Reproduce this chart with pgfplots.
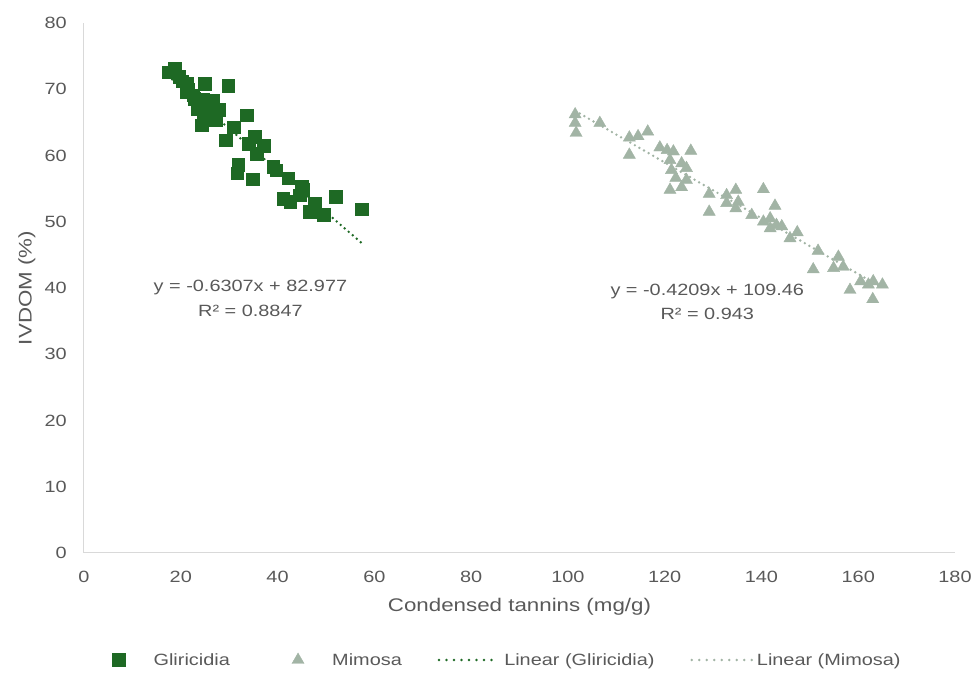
\documentclass[border=0pt]{standalone}
\usepackage{fontspec}
\setmainfont{Liberation Sans}[FakeStretch=1.22]
\usepackage{pgfplots}
\pgfplotsset{compat=1.18}
\definecolor{gl}{RGB}{30,105,36}
\definecolor{mi}{RGB}{162,180,165}
\definecolor{txt}{RGB}{89,89,89}
\definecolor{axl}{RGB}{217,217,217}
\begin{document}
\begin{tikzpicture}
\begin{axis}[name=ax, scale only axis, width=871pt, height=530pt,
  xmin=0, xmax=180, ymin=0, ymax=80,
  xtick={0,20,...,180}, ytick={0,10,...,80},
  axis x line*=bottom, axis y line*=left,
  axis line style={draw=axl, line width=1pt, -},
  major tick length=0pt,
  /pgf/number format/assume math mode=true,
  tick label style={font=\fontsize{16.3}{19}\selectfont, text=txt},
  xticklabel style={inner sep=0pt, anchor=north, yshift=-18pt},
  yticklabel style={inner sep=0pt, anchor=east, xshift=-17pt},
  xlabel={Condensed tannins (mg/g)}, ylabel={IVDOM (\%)},
  label style={font=\fontsize{18.3}{22}\selectfont, text=txt},
  xlabel style={at={(axis description cs:0.5,0)}, anchor=center, yshift=-54pt},
  ylabel style={at={([xshift=-57pt]axis description cs:0,0.5)}, anchor=center},
  clip=false,
  legend columns=4,
  legend cell align=left,
  legend style={draw=none, fill=none, inner sep=0pt,
    at={(axis description cs:0,0)}, anchor=west, xshift=16pt, yshift=-107pt,
    font=\fontsize{16.3}{19}\selectfont, text=txt, column sep=0pt,
    nodes={inner xsep=0pt}},
]
% Gliricidia
\addplot[only marks, mark=square*, mark size=6.3pt, color=gl, forget plot] coordinates {
(17.4,72.6) (18.8,73.1) (19.7,71.9) (21.2,70.9) (25.0,70.8) (29.8,70.5)
(21.2,69.6) (22.6,69.1) (26.7,68.3) (27.8,66.9) (24.0,67.6) (24.7,66.1)
(26.0,65.6) (24.3,64.6) (30.9,64.3) (33.6,66.1) (29.3,62.3) (35.3,62.8)
(34.0,61.8) (37.1,61.5) (35.7,60.3) (31.9,58.6) (31.7,57.3) (34.9,56.4)
(39.1,58.3) (39.7,57.8) (42.2,56.6) (45.0,55.3) (45.3,54.8) (41.2,53.5)
(42.6,53.0) (44.6,54.0) (47.7,52.8) (46.7,51.5) (49.5,51.1) (52.0,53.8)
(57.4,51.9) (21.5,70.0) (22.8,68.6) (23.5,67.0) (24.5,68.5) (25.5,67.2)
(26.5,66.8) (27.2,65.3) (20.3,71.2)
};
% Mimosa
\addplot[only marks, mark=triangle*, mark size=7pt, color=mi, forget plot] coordinates {
(101.5,66.2) (101.5,64.9) (101.7,63.4) (106.6,64.9) (112.7,62.7) (114.5,62.9)
(116.5,63.6) (112.7,60.1) (119.0,61.2) (120.5,60.8) (121.8,60.6) (125.4,60.7)
(121.1,59.3) (123.5,58.8) (124.5,58.1) (121.4,57.8) (122.3,56.6) (124.5,56.3)
(121.1,54.8) (123.5,55.2) (129.2,54.2) (129.2,51.5) (132.8,54.0) (134.7,54.8)
(132.8,52.8) (135.2,53.0) (134.7,52.0) (140.4,54.9) (138.0,51.0) (142.8,52.4)
(140.4,50.0) (141.8,50.5) (141.8,49.0) (143.1,49.5) (144.2,49.3) (145.9,47.5)
(147.4,48.4) (151.7,45.6) (150.7,42.8) (155.9,44.7) (154.9,43.0) (156.9,43.2)
(158.3,39.7) (160.5,41.0) (162.1,40.5) (163.1,41.0) (165.0,40.5) (163.0,38.3)
};
% trendlines
\addplot[color=gl, line width=2.7pt, dash pattern=on 0pt off 5.3pt, line cap=round, forget plot]
  coordinates {(17.4,72.003) (57.4,46.775)};
\addplot[color=mi, line width=2.7pt, dash pattern=on 0pt off 5.3pt, line cap=round, forget plot]
  coordinates {(101.5,66.739) (165.0,40.012)};
% legend
\addlegendimage{legend image code/.code={\path (0pt,0pt) (53pt,0pt);
  \draw[only marks, color=gl, mark=square*, mark size=6.3pt] plot coordinates {(18pt,0pt)};}}
\addlegendentry{Gliricidia}
\addlegendimage{legend image code/.code={\path (0pt,0pt) (102pt,0pt);
  \draw[only marks, color=mi, mark=triangle*, mark size=7pt] plot coordinates {(68pt,0pt)};}}
\addlegendentry{Mimosa}
\addlegendimage{legend image code/.code={\path (0pt,0pt) (102pt,0pt);
  \draw[color=gl, line width=2.7pt, dash pattern=on 0pt off 7.5pt, line cap=round] (37pt,0pt) -- (97pt,0pt);}}
\addlegendentry{Linear (Gliricidia)}
\addlegendimage{legend image code/.code={\path (0pt,0pt) (102pt,0pt);
  \draw[color=mi, line width=2.7pt, dash pattern=on 0pt off 7.5pt, line cap=round] (37pt,0pt) -- (99pt,0pt);}}
\addlegendentry{Linear (Mimosa)}
% equations
\node[font=\fontsize{16.3}{19}\selectfont, text=txt] at (axis cs:34.4,40.0) {y = -0.6307x + 82.977};
\node[font=\fontsize{16.3}{19}\selectfont, text=txt] at (axis cs:34.4,36.5) {R² = 0.8847};
\node[font=\fontsize{16.3}{19}\selectfont, text=txt] at (axis cs:128.8,39.4) {y = -0.4209x + 109.46};
\node[font=\fontsize{16.3}{19}\selectfont, text=txt] at (axis cs:128.8,36.1) {R² = 0.943};
\end{axis}
\pgfresetboundingbox
\path ([shift={(-84pt,-125pt)}]ax.south west) rectangle ([shift={(19pt,23pt)}]ax.north east);
\end{tikzpicture}
\end{document}
